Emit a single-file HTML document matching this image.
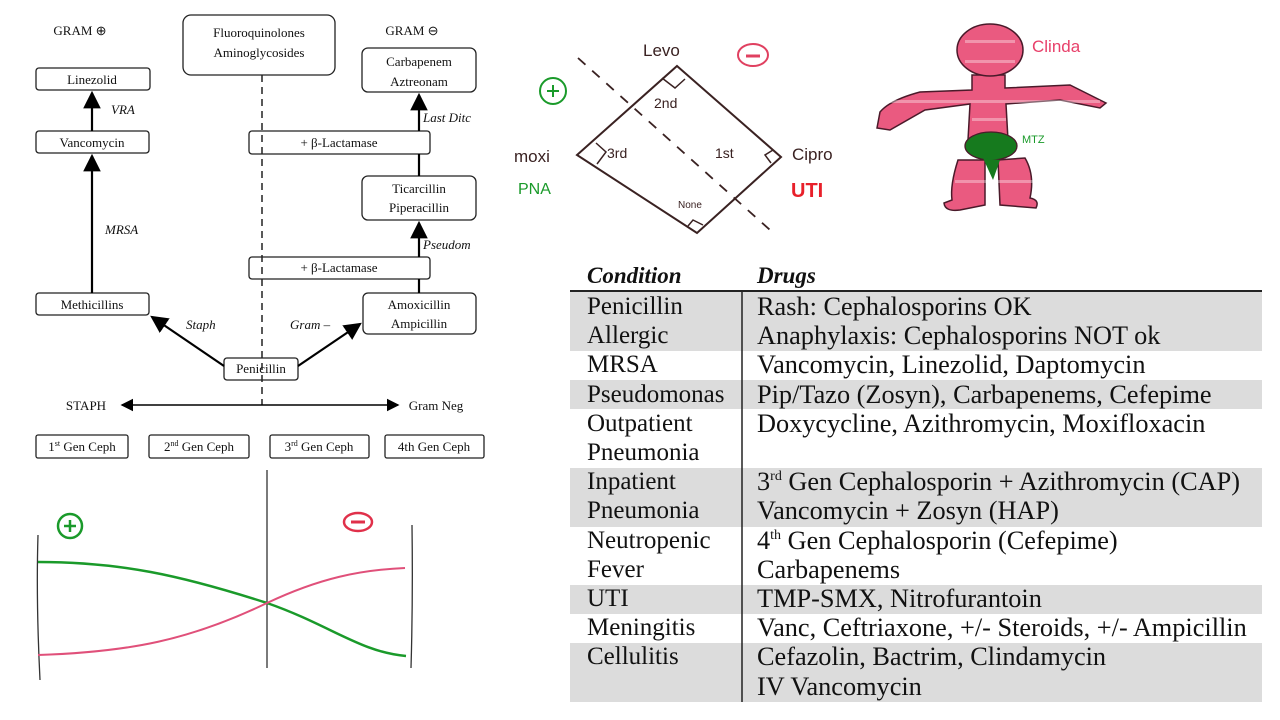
<!DOCTYPE html>
<html><head><style>
body{margin:0;background:#fff;width:1280px;height:720px;overflow:hidden;position:relative;font-family:"Liberation Serif",serif;}
svg{position:absolute;left:0;top:0}
.t{position:absolute;font-family:"Liberation Serif",serif;font-size:25px;color:#111;line-height:29.2px;white-space:nowrap}
</style></head><body>
<svg width="1280" height="720" font-family="Liberation Serif" fill="none">
<defs><marker id="a" markerWidth="8" markerHeight="8" refX="7" refY="4" orient="auto"><path d="M0,0L8,4L0,8z" fill="#000"/></marker></defs>
<g stroke="#222" stroke-width="1.3" fill="#fff">
<rect x="36" y="68" width="114" height="22" rx="3"/>
<rect x="36" y="131" width="113" height="22" rx="3"/>
<rect x="36" y="293" width="113" height="22" rx="3"/>
<rect x="183" y="15" width="152" height="60" rx="8"/>
<rect x="362" y="48" width="114" height="44" rx="6"/>
<rect x="249" y="131" width="181" height="23" rx="3"/>
<rect x="362" y="176" width="114" height="44" rx="6"/>
<rect x="249" y="257" width="181" height="22" rx="3"/>
<rect x="363" y="293" width="113" height="41" rx="5"/>
<rect x="224" y="358" width="74" height="22" rx="3"/>
<rect x="36" y="435" width="92" height="23" rx="2"/>
<rect x="149" y="435" width="100" height="23" rx="2"/>
<rect x="270" y="435" width="99" height="23" rx="2"/>
<rect x="385" y="435" width="99" height="23" rx="2"/>
</g>
<line x1="262" y1="75" x2="262" y2="405" stroke="#222" stroke-width="1.5" stroke-dasharray="7,5"/>
<g stroke="#000" stroke-width="2.2" marker-end="url(#a)">
<line x1="92" y1="131" x2="92" y2="93"/>
<line x1="92" y1="293" x2="92" y2="156"/>
<line x1="419" y1="131" x2="419" y2="95"/>
<line x1="419" y1="257" x2="419" y2="223"/>
<line x1="224" y1="366" x2="152" y2="317"/>
<line x1="298" y1="366" x2="360" y2="324"/>
<line x1="262" y1="405" x2="122" y2="405" stroke-width="1.6"/>
<line x1="262" y1="405" x2="398" y2="405" stroke-width="1.6"/>
</g>
<g stroke="#000" stroke-width="2.2"><line x1="419" y1="154" x2="419" y2="176"/><line x1="419" y1="279" x2="419" y2="293"/></g>
<g fill="#111" font-size="13" text-anchor="middle">
<text x="92" y="84">Linezolid</text><text x="92" y="147">Vancomycin</text><text x="92" y="309">Methicillins</text>
<text x="259" y="37">Fluoroquinolones</text><text x="259" y="57">Aminoglycosides</text>
<text x="419" y="66">Carbapenem</text><text x="419" y="86">Aztreonam</text>
<text x="339" y="147">+ β-Lactamase</text><text x="339" y="272">+ β-Lactamase</text>
<text x="419" y="193">Ticarcillin</text><text x="419" y="212">Piperacillin</text>
<text x="419" y="309">Amoxicillin</text><text x="419" y="328">Ampicillin</text>
<text x="261" y="373">Penicillin</text>
<text x="82" y="451">1<tspan font-size="8" dy="-5">st</tspan><tspan dy="5"> Gen Ceph</tspan></text>
<text x="199" y="451">2<tspan font-size="8" dy="-5">nd</tspan><tspan dy="5"> Gen Ceph</tspan></text>
<text x="319" y="451">3<tspan font-size="8" dy="-5">rd</tspan><tspan dy="5"> Gen Ceph</tspan></text>
<text x="434" y="451">4th Gen Ceph</text>
<text x="80" y="35">GRAM ⊕</text><text x="412" y="35">GRAM ⊖</text>
<text x="86" y="410">STAPH</text><text x="436" y="410">Gram Neg</text>
</g>
<g fill="#111" font-size="13" font-style="italic">
<text x="111" y="114">VRA</text><text x="105" y="234">MRSA</text><text x="423" y="122">Last Ditc</text>
<text x="423" y="249">Pseudom</text><text x="186" y="329">Staph</text><text x="290" y="329">Gram –</text>
</g>
<!-- graph -->
<line x1="267" y1="470" x2="267" y2="668" stroke="#333" stroke-width="1.3"/>
<path d="M38,535 Q36,600 40,680 M412,525 Q413,600 411,668" stroke="#333" stroke-width="1.3"/>
<path d="M38,562 C120,562 180,575 267,603 C330,625 360,652 406,656" stroke="#1a9a2a" stroke-width="2.5"/>
<path d="M38,655 C130,652 190,640 267,603 C320,578 360,570 405,568" stroke="#e0507a" stroke-width="2"/>
<circle cx="70" cy="526" r="12" stroke="#1a9a2a" stroke-width="2.5"/><path d="M70,520v12M64,526h12" stroke="#1a9a2a" stroke-width="2.5"/>
<ellipse cx="358" cy="522" rx="14" ry="9" stroke="#e0304a" stroke-width="2.5"/><path d="M351,522h14" stroke="#e0304a" stroke-width="3"/>
<!-- diamond -->
<path d="M677,66 L781,157 L697,233 L577,155 Z" stroke="#3a2222" stroke-width="2"/>
<line x1="578" y1="58" x2="770" y2="230" stroke="#3a2222" stroke-width="1.8" stroke-dasharray="10,9"/>
<path d="M662,78 L675,88 L685,79 M596,143 L606,152 L597,164 M773,150 L765,155 L771,163 M688,226 L693,220 L703,225" stroke="#3a2222" stroke-width="1.5"/>
<g fill="#3a2222" font-family="Liberation Sans" font-size="17"><text x="643" y="56">Levo</text><text x="514" y="162">moxi</text><text x="792" y="160">Cipro</text>
<text x="654" y="108" font-size="14">2nd</text><text x="607" y="158" font-size="14">3rd</text><text x="715" y="158" font-size="14">1st</text><text x="678" y="208" font-size="10">None</text></g>
<text x="518" y="194" fill="#1a9a2a" font-family="Liberation Sans" font-size="16">PNA</text>
<text x="791" y="197" fill="#e8202a" font-family="Liberation Sans" font-size="20" font-weight="bold">UTI</text>
<circle cx="553" cy="91" r="13" stroke="#1a9a2a" stroke-width="2"/><path d="M553,85v12M547,91h12" stroke="#1a9a2a" stroke-width="2"/>
<ellipse cx="753" cy="55" rx="15" ry="11" stroke="#e04060" stroke-width="2"/><path d="M746,56h14" stroke="#e04060" stroke-width="3"/>
<!-- body -->
<g stroke="#4a1a2a" stroke-width="1.5" fill="#ea5a80">
<path d="M958,160 Q950,185 952,200 L944,203 Q945,212 960,210 L985,205 L985,160 Z"/>
<path d="M998,160 L1000,205 L1036,208 Q1040,200 1030,198 Q1035,175 1025,158 Z"/>
<path d="M972,75 L972,90 L920,92 Q890,100 880,112 L877,128 L890,130 L925,110 L970,104 L968,140 L1008,140 L1006,104 L1060,100 L1100,108 L1106,103 L1070,85 L1005,88 L1005,75 Z"/>
<ellipse cx="990" cy="50" rx="33" ry="26"/>
</g>
<g fill="#fff" opacity="0.35"><rect x="880" y="100" width="220" height="3"/><rect x="965" y="40" width="50" height="3"/><rect x="965" y="60" width="50" height="3"/><rect x="972" y="118" width="34" height="3"/><rect x="955" y="180" width="80" height="3"/></g>
<ellipse cx="991" cy="146" rx="26" ry="14" fill="#167a1e" stroke="#4a1a2a" stroke-width="1.3"/>
<path d="M983,158 L1000,160 L993,180 Z" fill="#167a1e"/>
<text x="1032" y="52" fill="#e8406a" font-family="Liberation Sans" font-size="17">Clinda</text>
<text x="1022" y="143" fill="#1a9a2a" font-family="Liberation Sans" font-size="11">MTZ</text>
<!-- table -->
<g fill="#dcdcdc"><rect x="570" y="292" width="692" height="59"/><rect x="570" y="380" width="692" height="29"/><rect x="570" y="468" width="692" height="59"/><rect x="570" y="585" width="692" height="29"/><rect x="570" y="643" width="692" height="59"/></g>
<line x1="570" y1="291" x2="1262" y2="291" stroke="#222" stroke-width="2"/>
<line x1="742" y1="292" x2="742" y2="702" stroke="#222" stroke-width="1.5"/>
</svg>
<div class="t" style="left:587px;top:261px;font-weight:bold;font-style:italic;font-size:23px">Condition</div>
<div class="t" style="left:757px;top:261px;font-weight:bold;font-style:italic;font-size:23px">Drugs</div>
<div class="t" style="left:587px;top:292px">Penicillin<br>Allergic<br>MRSA<br>Pseudomonas<br>Outpatient<br>Pneumonia<br>Inpatient<br>Pneumonia<br>Neutropenic<br>Fever<br>UTI<br>Meningitis<br>Cellulitis</div>
<div class="t" style="left:757px;top:292px;font-size:26.3px">Rash: Cephalosporins OK<br>Anaphylaxis: Cephalosporins NOT ok<br>Vancomycin, Linezolid, Daptomycin<br>Pip/Tazo (Zosyn), Carbapenems, Cefepime<br>Doxycycline, Azithromycin, Moxifloxacin<br>&nbsp;<br>3<sup style="font-size:14px;line-height:0">rd</sup> Gen Cephalosporin + Azithromycin (CAP)<br>Vancomycin + Zosyn (HAP)<br>4<sup style="font-size:14px;line-height:0">th</sup> Gen Cephalosporin (Cefepime)<br>Carbapenems<br>TMP-SMX, Nitrofurantoin<br>Vanc, Ceftriaxone, +/- Steroids, +/- Ampicillin<br>Cefazolin, Bactrim, Clindamycin<br>IV Vancomycin</div>
</body></html>
